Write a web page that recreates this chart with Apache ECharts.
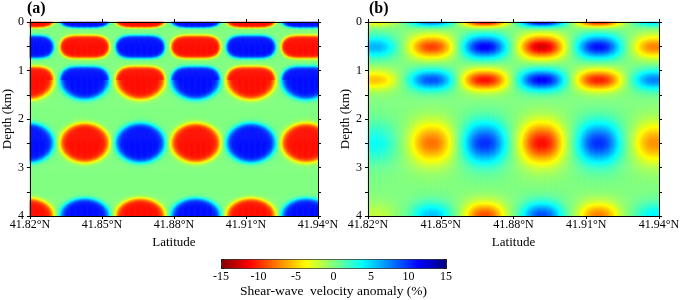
<!DOCTYPE html>
<html>
<head>
<meta charset="utf-8">
<script src="https://cdn.jsdelivr.net/npm/echarts@6/dist/echarts.min.js"></script>
<style>
html,body{margin:0;padding:0;background:#fff;}
#chart{width:685px;height:300px;}
</style>
</head>
<body>
<div id="chart"></div>
<script>
// ---------- data ----------
const latTicks = [41.82, 41.85, 41.88, 41.91, 41.94];
const depthTicks = [0, 1, 2, 3, 4];
const colorTicks = [-15, -10, -5, 0, 5, 10, 15];

// (a) input checkerboard: anomaly centres (latitude, depth) and amplitudes (%)
const blobLatA = [41.81975, 41.8429, 41.86605, 41.88915, 41.91215, 41.93515];
const bandDepthA = [-0.02, 0.52, 1.20, 2.50, 4.00];
const ampA = [
  [-10.8, 10.8, -10.8, 10.8, -10.8, 10.8],
  [ 10.8,-10.8,  10.8,-10.8,  10.8,-10.8],
  [-10.8, 10.8, -10.8, 10.8, -10.8, 10.8],
  [ 10.8,-10.8,  10.8,-10.8,  10.8,-10.8],
  [-10.8, 10.8, -10.8, 10.8, -10.8, 10.8]
];
const halfWidthA = [0.01035, 0.01035, 0.01035, 0.01035, 0.01035];
const halfUpA = [0.15, 0.24, 0.28, 0.41, 0.36];
const halfDownA = [0.15, 0.24, 0.41, 0.41, 0.36];

// (b) recovered model
const blobLatB = [41.8230, 41.8464, 41.8682, 41.8918, 41.9152, 41.9384];
const bandDepthB = [0.0, 0.52, 1.20, 2.50, 4.00];
const ampB = [
  [-4.0,  8.0, -12.0, 12.5, -11.0,  5.0],
  [ 6.0, -9.5,  11.5,-12.5,  11.0, -7.5],
  [-5.5,  9.0, -11.0, 11.5, -10.5,  7.5],
  [ 3.5, -8.0,  10.0,-11.0,  10.0, -7.0],
  [-2.0,  5.5,  -9.0,  9.0,  -7.5,  4.0]
];
const halfWidthB = [0.0085, 0.0085, 0.0088, 0.0083, 0.0077];
const halfUpB = [0.10, 0.22, 0.20, 0.39, 0.26];
const halfDownB = [0.10, 0.22, 0.20, 0.39, 0.26];

// ---------- grid table built from the arrays above ----------
const LAT0 = latTicks[0], LAT1 = latTicks[latTicks.length - 1];
const DEP1 = depthTicks[depthTicks.length - 1];
const nLat = 240, nDep = 200;
const dLat = (LAT1 - LAT0) / nLat, dDep = DEP1 / nDep;

const shapeA = {powUp: [4, 4.5, 4, 2, 2], powDown: [4, 4.5, 2, 2, 2],
  kernel: r => 1 / (1 + Math.exp((r - 0.97) / 0.075))};
const shapeB = {powUp: [2.4, 2.4, 2.4, 2.4, 2.4], powDown: [2.4, 2.4, 2.4, 2.4, 2.4],
  kernel: r => 0.92 * Math.exp(-0.95 * r * r) + 0.08 * Math.exp(-0.3 * r * r)};

function buildTable(blobLat, bandDepth, amp, halfW, up, down, shape) {
  const out = [];
  for (let j = 0; j < nDep; j++) {
    const z = (j + 0.5) * dDep;
    for (let i = 0; i < nLat; i++) {
      const lat = LAT0 + (i + 0.5) * dLat;
      let v = 0;
      for (let b = 0; b < bandDepth.length; b++) {
        const dz = z - bandDepth[b];
        const q = dz < 0 ? dz / up[b] : dz / down[b];
        if (Math.abs(q) > 5) continue;
        const n = dz < 0 ? shape.powUp[b] : shape.powDown[b];
        for (let k = 0; k < blobLat.length; k++) {
          const p = (lat - blobLat[k]) / halfW[b];
          if (Math.abs(p) > 5) continue;
          const rho = Math.sqrt(Math.pow(Math.abs(p), n) + q * q);
          v += amp[b][k] * shape.kernel(rho);
        }
      }
      out.push([i, j, Math.round(v * 100) / 100]);
    }
  }
  return out;
}
const tableA = buildTable(blobLatA, bandDepthA, ampA, halfWidthA, halfUpA, halfDownA, shapeA);
const tableB = buildTable(blobLatB, bandDepthB, ampB, halfWidthB, halfUpB, halfDownB, shapeB);

const latCats = Array.from({length: nLat}, (_, i) => i);
const depCats = Array.from({length: nDep}, (_, j) => j);

// ---------- chart ----------
const FONT = 'Liberation Serif';
const black = '#000';
const gridsPos = [{left: 27, top: 22, width: 291, height: 194}, {left: 368, top: 22, width: 291, height: 194}];

const xAxes = [], yAxes = [], series = [];
gridsPos.forEach((g, gi) => {
  const base = xAxes.length;
  xAxes.push({gridIndex: gi, type: 'category', data: latCats, show: false, position: 'bottom', boundaryGap: true});
  xAxes.push({gridIndex: gi, type: 'value', position: 'bottom', min: LAT0, max: LAT1, interval: 0.03, z: 5,
    axisLine: {show: true, onZero: false, lineStyle: {color: black, width: 1}},
    axisTick: {show: true, length: 3, lineStyle: {color: black}},
    axisLabel: {show: true, color: black, fontSize: 12, fontFamily: FONT, margin: 3,
      formatter: v => v.toFixed(2) + '°N', showMinLabel: true, showMaxLabel: true},
    splitLine: {show: false},
    name: 'Latitude', nameLocation: 'middle', nameGap: 18,
    nameTextStyle: {color: black, fontSize: 13, fontFamily: FONT, verticalAlign: 'top'}});
  xAxes.push({gridIndex: gi, type: 'value', position: 'top', min: LAT0, max: LAT1, interval: 0.03, z: 5,
    axisLine: {show: true, onZero: false, lineStyle: {color: black, width: 1}},
    axisTick: {show: true, length: 3, lineStyle: {color: black}},
    axisLabel: {show: false}, splitLine: {show: false}});
  yAxes.push({gridIndex: gi, type: 'category', data: depCats, inverse: true, show: false, position: 'left', boundaryGap: true});
  yAxes.push({gridIndex: gi, type: 'value', position: 'left', inverse: true, min: 0, max: DEP1, interval: 1, z: 5,
    axisLine: {show: true, onZero: false, lineStyle: {color: black, width: 1}},
    axisTick: {show: true, length: 3, lineStyle: {color: black}},
    minorTick: {show: true, splitNumber: 2, length: 3, lineStyle: {color: black}},
    axisLabel: {show: true, color: black, fontSize: 12, fontFamily: FONT, margin: 6},
    splitLine: {show: false},
    name: 'Depth (km)', nameLocation: 'middle', nameGap: 11,
    nameTextStyle: {color: black, fontSize: 13, fontFamily: FONT}});
  yAxes.push({gridIndex: gi, type: 'value', position: 'right', inverse: true, min: 0, max: DEP1, interval: 1, z: 5,
    axisLine: {show: true, onZero: false, lineStyle: {color: black, width: 1}},
    axisTick: {show: true, length: 3, lineStyle: {color: black}},
    minorTick: {show: true, splitNumber: 2, length: 3, lineStyle: {color: black}},
    axisLabel: {show: false}, splitLine: {show: false}});
  series.push({type: 'heatmap', xAxisIndex: base, yAxisIndex: base,
    data: gi === 0 ? tableA : tableB, progressive: 0, silent: true, animation: false, z: 1});
});

// colour-bar label axis
xAxes.push({gridIndex: 2, type: 'value', position: 'bottom', min: colorTicks[0], max: colorTicks[colorTicks.length - 1], interval: 5,
  axisLine: {show: false}, axisTick: {show: false}, splitLine: {show: false},
  axisLabel: {show: true, color: black, fontSize: 12, fontFamily: FONT, margin: 3},
  name: 'Shear-wave  velocity anomaly (%)', nameLocation: 'middle', nameGap: 16,
  nameTextStyle: {color: black, fontSize: 13.5, fontFamily: FONT, verticalAlign: 'top'}});
yAxes.push({gridIndex: 2, type: 'value', show: false, min: 0, max: 1});

const option = {
  animation: false,
  textStyle: {fontFamily: FONT},
  title: [
    {text: '(a)', left: 27, top: 1, padding: 0, textStyle: {fontFamily: FONT, fontWeight: 'bold', fontSize: 16, color: black}},
    {text: '(b)', left: 369, top: 1, padding: 0, textStyle: {fontFamily: FONT, fontWeight: 'bold', fontSize: 16, color: black}}
  ],
  grid: [gridsPos[0], gridsPos[1], {left: 221, top: 259, width: 225, height: 9}],
  xAxis: xAxes,
  yAxis: yAxes,
  visualMap: {
    type: 'continuous', min: colorTicks[0], max: colorTicks[colorTicks.length - 1],
    orient: 'horizontal', left: 221, top: 259, itemWidth: 9, itemHeight: 225,
    calculable: false, hoverLink: false, padding: 0, borderColor: black, borderWidth: 1,
    seriesIndex: [0, 1],
    inRange: {color: ['#800000', '#ff0000', '#ff8000', '#ffff00', '#80ff80', '#00ffff', '#0080ff', '#0000ff', '#000080']}
  },
  series: series
};
const chart = echarts.init(document.getElementById('chart'), null, {renderer: 'canvas'});
chart.setOption(option);
</script>
</body>
</html>
